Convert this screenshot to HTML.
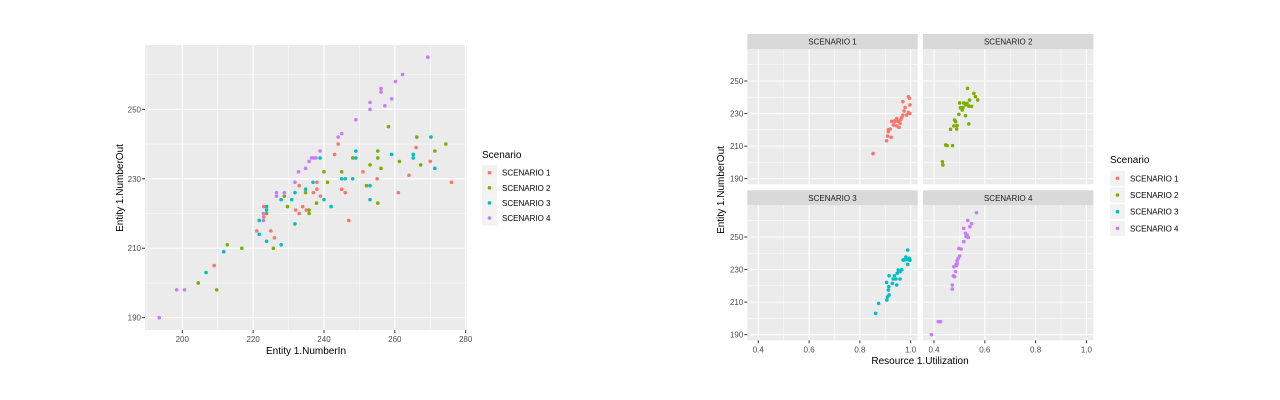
<!DOCTYPE html>
<html><head><meta charset="utf-8"><style>
body{margin:0;background:#fff;}
svg{display:block;font-family:"Liberation Sans",sans-serif;}
</style></head><body>
<svg id="c" width="1280" height="400"></svg>
<script>
const COLORS=["#F8766D","#7CAE00","#00BFC4","#C77CFF"];
const scenarios=["SCENARIO 1","SCENARIO 2","SCENARIO 3","SCENARIO 4"];
// Left scatter: NumberIn vs NumberOut
const s1In=[209,221,225,226,223,223,232,233,233,234,235,237,238,238,239,243,244,245,246,247,251,255,261,264,266,270,276];
const s1Out=[205,215,215,213,222,219,221,220,228,222,221,226,229,227,225,237,240,227,226,218,232,230,226,231,239,235,229];
const s2In=[204.5,209.7,212.7,216.8,225.7,223.8,228.8,229.7,234.8,235.8,235.8,237.9,240,241,245,248.1,252,253,255.2,255.2,256.1,255.2,258.2,261.3,266.2,267.3,271.3,274.4];
const s2Out=[200,198,211,210,210,220,225,222,226,221,220,223,232,229,232,236,228,234,238,236,233,223,245,235,242,234,238,240];
const s3In=[206.7,211.7,221.7,221.7,223.8,223.8,223.8,227.9,227.9,230.9,231.8,231.8,234.8,236.9,238.9,240,242,245,246,248.1,249,249,253,253,259.1,265.2,265.2,270.2,271.3];
const s3Out=[203,209,218,214,222,221,212,211,224,224,226,217,227,229,236,224,222,230,230,230,238,236,228,224,237,237,236,242,233];
const s4In=[193.5,198.4,200.6,222.9,222.9,226.6,226.6,228.8,231.8,232.8,234.8,235.8,236.5,237.1,237.7,238.9,244,245,249,253,253,256.1,256.1,257.2,259.1,260.2,262.2,269.3];
const s4Out=[190,198,198,218,220,225,226,226,229,232,233,235,236,236,236,238,242,243,247,250,252,255,256,251,253,258,260,265];
// Facets: Utilization vs NumberOut
const f1U=[0.852,0.905,0.909,0.912,0.919,0.923,0.925,0.932,0.938,0.945,0.951,0.958,0.954,0.961,0.965,0.969,0.974,0.969,0.984,0.991,0.991,0.995,0.997,0.997,0.938,0.912,0.945,0.978];
const f1O=[205.4,213.3,216.2,218.9,220.5,215.4,225.2,223,225,222.4,225.2,224,221.5,226.4,227.7,229.1,231.6,237.3,229.1,230.7,240.4,239.4,235.3,230.1,225.6,220.1,226.9,233.8];
const f2U=[0.433,0.435,0.446,0.452,0.473,0.465,0.478,0.485,0.481,0.489,0.498,0.504,0.501,0.511,0.517,0.524,0.524,0.530,0.532,0.537,0.540,0.537,0.548,0.557,0.563,0.572,0.491,0.514];
const f2O=[200.4,198.4,210.7,210.3,210.3,220.3,222.4,225,226,220.5,229.5,233.6,236.5,232.2,236.5,235.3,228.7,236.3,245.5,234.6,238.3,223.6,234.4,242.4,240.4,238.3,222.6,233.6];
const f3U=[0.862,0.874,0.906,0.909,0.915,0.912,0.914,0.905,0.915,0.928,0.931,0.942,0.945,0.947,0.951,0.958,0.965,0.958,0.974,0.981,0.987,0.988,0.988,0.995,0.997,0.936,0.970];
const f3O=[203.1,209.2,211.3,213.3,214.4,217.4,219.5,222.1,226.2,221.5,224.2,224.2,220.5,227.7,229.7,228.7,229.9,224.2,235.9,237.7,236.1,242,233.2,236.9,235.7,226.2,235.9];
const f4U=[0.390,0.417,0.426,0.472,0.472,0.476,0.481,0.485,0.487,0.491,0.495,0.501,0.498,0.507,0.517,0.517,0.524,0.526,0.530,0.535,0.533,0.541,0.548,0.567,0.478,0.489,0.491];
const f4O=[190,198,198,218,220.5,226.2,225.6,228.7,233.2,235.3,236.9,238.3,243,242.6,247.1,255.3,252.3,250.2,251.2,249.8,260.2,256.3,258.2,264.9,231.8,232.4,233.6];
const leftXTicks=[200,220,240,260,280];
const leftYTicks=[190,210,230,250];
const uTicks=[0.4,0.6,0.8,1.0];

const NS="http://www.w3.org/2000/svg";
const svg=document.getElementById('c');
function mk(tag,at,parent){const e=document.createElementNS(NS,tag);for(const k in at)e.setAttribute(k,at[k]);(parent||svg).appendChild(e);return e;}
function txt(s,at,parent){const e=mk('text',at,parent);e.textContent=s;return e;}

// ---- Left chart ----
const L={x0:145,x1:467,y0:45,y1:330};
const lx=v=>182.3+(v-200)*3.542;
const ly=v=>317.7-(v-190)*3.473;
const lp=mk('rect',{x:L.x0,y:L.y0,width:L.x1-L.x0,height:L.y1-L.y0,fill:'#EBEBEB'});


[190,210,230,250,270].forEach(v=>mk('line',{x1:lx(v),x2:lx(v),y1:L.y0,y2:L.y1,stroke:'#fff','stroke-width':0.5}));
[200,220,240,260].forEach(v=>mk('line',{x1:L.x0,x2:L.x1,y1:ly(v),y2:ly(v),stroke:'#fff','stroke-width':0.5}));
leftXTicks.forEach(v=>{mk('line',{x1:lx(v),x2:lx(v),y1:L.y0,y2:L.y1,stroke:'#fff','stroke-width':1.1});
 mk('line',{x1:lx(v),x2:lx(v),y1:L.y1,y2:L.y1+3,stroke:'#333'});
 const t=txt(String(v),{x:lx(v),y:L.y1+12,'font-size':8,fill:'#4D4D4D','text-anchor':'middle'});
 });
leftYTicks.forEach(v=>{mk('line',{x1:L.x0,x2:L.x1,y1:ly(v),y2:ly(v),stroke:'#fff','stroke-width':1.1});
 mk('line',{x1:L.x0-3,x2:L.x0,y1:ly(v),y2:ly(v),stroke:'#333'});
 const t=txt(String(v),{x:L.x0-4,y:ly(v)+3,'font-size':8,fill:'#4D4D4D','text-anchor':'end'});
 });
const leftSeries=[[s1In,s1Out],[s2In,s2Out],[s3In,s3Out],[s4In,s4Out]];
leftSeries.forEach((s,i)=>s[0].forEach((v,j)=>{const c=mk('circle',{cx:lx(v),cy:ly(s[1][j]),r:1.8,fill:COLORS[i]});
 }));
let t=txt('Entity 1.NumberIn',{x:306,y:354,'font-size':10,fill:'#000','text-anchor':'middle'});

t=txt('Entity 1.NumberOut',{x:0,y:0,'font-size':10,fill:'#000','text-anchor':'middle',transform:'translate(123,188) rotate(-90)'});


function legend(x,ty,y0,dy,name){
 const g=mk('g',{});
 
 txt('Scenario',{x:x,y:ty,'font-size':10,fill:'#000'},g);
 scenarios.forEach((s,i)=>{const cy=y0+i*dy;
  const r=mk('rect',{x:x,y:cy-7.5,width:15,height:15,fill:'#F2F2F2'},g);
  
  mk('circle',{cx:x+7.5,cy:cy,r:1.8,fill:COLORS[i]},g);
  const l=txt(s,{x:x+20,y:cy+3,'font-size':8,fill:'#000'},g);
  });
}
legend(482,158,172.7,15.1,'left-legend');

// ---- Facets ----
const cols=[747.3,923];const W=170.4;
const rows=[{s:34,p:49,b:184.3,y250:81},{s:190.3,p:205.3,b:340.3,y250:237}];
const fx=(c,v)=>cols[c]+11+(v-0.4)*254;
const fy=(r,v)=>rows[r].y250+(250-v)*1.628;
const facetData=[[f1U,f1O],[f2U,f2O],[f3U,f3O],[f4U,f4O]];
for(let k=0;k<4;k++){
 const c=k%2,r=Math.floor(k/2),R=rows[r],X=cols[c];
 const g=mk('g',{});
 
 mk('rect',{x:X,y:R.s,width:W,height:R.p-R.s,fill:'#D9D9D9'},g);
 const st=txt(scenarios[k],{x:X+W/2,y:R.s+10.5,'font-size':8,fill:'#1A1A1A','text-anchor':'middle'},g);
 
 mk('rect',{x:X,y:R.p,width:W,height:R.b-R.p,fill:'#EBEBEB'},g);
 [0.5,0.7,0.9].forEach(v=>mk('line',{x1:fx(c,v),x2:fx(c,v),y1:R.p,y2:R.b,stroke:'#fff','stroke-width':0.5},g));
 [200,220,240,260].forEach(v=>mk('line',{x1:X,x2:X+W,y1:fy(r,v),y2:fy(r,v),stroke:'#fff','stroke-width':0.5},g));
 uTicks.forEach(v=>mk('line',{x1:fx(c,v),x2:fx(c,v),y1:R.p,y2:R.b,stroke:'#fff','stroke-width':1.1},g));
 leftYTicks.forEach(v=>mk('line',{x1:X,x2:X+W,y1:fy(r,v),y2:fy(r,v),stroke:'#fff','stroke-width':1.1},g));
 if(c===0) leftYTicks.forEach(v=>{mk('line',{x1:X-3,x2:X,y1:fy(r,v),y2:fy(r,v),stroke:'#333'},g);
  const tl=txt(String(v),{x:X-4,y:fy(r,v)+3,'font-size':8,fill:'#4D4D4D','text-anchor':'end'},g);
  });
 if(r===1) uTicks.forEach(v=>{mk('line',{x1:fx(c,v),x2:fx(c,v),y1:R.b,y2:R.b+3,stroke:'#333'},g);
  const tl=txt(v.toFixed(1),{x:fx(c,v),y:R.b+12,'font-size':8,fill:'#4D4D4D','text-anchor':'middle'},g);
  });
 facetData[k][0].forEach((v,j)=>{const p=mk('circle',{cx:fx(c,v),cy:fy(r,facetData[k][1][j]),r:1.8,fill:COLORS[k]},g);
  });
}
t=txt('Resource 1.Utilization',{x:920,y:364,'font-size':10,fill:'#000','text-anchor':'middle'});

t=txt('Entity 1.NumberOut',{x:0,y:0,'font-size':10,fill:'#000','text-anchor':'middle',transform:'translate(724,190) rotate(-90)'});

legend(1110,163,178.3,16.7,'right-legend');
</script>
</body></html>
